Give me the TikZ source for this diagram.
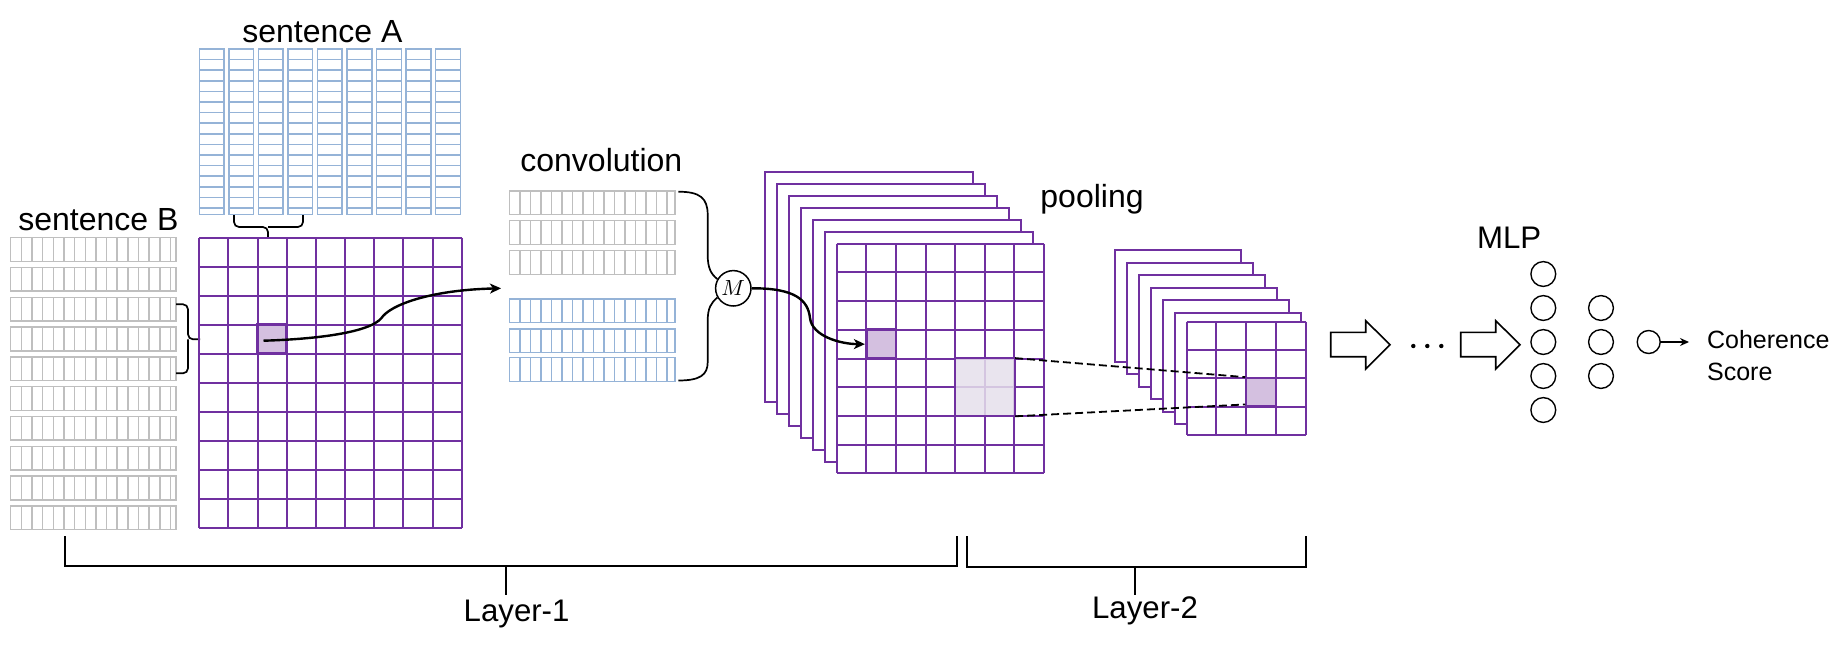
\documentclass[tikz,border=0pt]{standalone}
\usepackage{fontspec}
\setmainfont{Liberation Sans}
\usetikzlibrary{arrows.meta,calc}
\definecolor{pur}{HTML}{7030A0}
\definecolor{hl}{HTML}{D4C0E0}
\definecolor{hlb}{HTML}{E6E0EC}
\definecolor{blu}{HTML}{95B3D7}
\definecolor{gry}{HTML}{BFBFBF}
\newcommand\cellgrid[7]{%
  \foreach \cc in {0,...,#3} {\path[#7] (#1+\cc*#5,#2) -- ++(0,#4*#6);}
  \foreach \rr in {0,...,#4} {\path[#7] (#1,#2+\rr*#6) -- ++(#3*#5,0);}
}
\begin{document}
\begin{tikzpicture}[x=0.5pt,y=-0.5pt,
  lbl/.style={font=\fontsize{16}{19.2}\selectfont, inner sep=0pt, anchor=base west},
  bluline/.style={draw=blu, line width=0.75pt},
  gryline/.style={draw=gry, line width=0.75pt},
  purline/.style={draw=pur, line width=1pt},
  brc/.style={draw=black, line width=0.85pt, rounded corners=2.5pt},
  curvearrow/.style={draw=black, line width=1.2pt, -{Stealth[length=5.5pt,width=5pt,inset=1.5pt]}},
  neuron/.style={circle, draw=black, line width=0.7pt, minimum size=12.4pt, inner sep=0pt},
  hlcell/.style={draw=pur, fill=hl, line width=1.4pt, inner sep=0pt},
  blockarrow/.style={draw=black, line width=0.8pt, fill=white},
  mapframe/.style={draw=pur, fill=white, line width=1pt},
  dashedline/.style={draw=black, line width=0.9pt, dash pattern=on 4pt off 2pt},
  bracket/.style={draw=black, line width=1pt},
]
\useasboundingbox (0,0) rectangle (1845,649);

% ---- sentence A (word vectors, vertical)
\foreach \i in {0,...,8}{
  \pgfmathsetmacro{\xa}{199.3+\i*29.55}
  \path[bluline] (\xa,49) rectangle ++(24.7,165.7);
  \foreach \k in {1,...,15}{\path[bluline] (\xa,49+\k*10.6) -- ++(24.7,0);}
}
\node[lbl] (senA) at (242,42) {sentence A};
\path[brc] (234,215) -- (234,227) -- (268,227) -- (268,238);
\path[brc] (268,227) -- (303,227) -- (303,215);

% ---- sentence B (word vectors, horizontal)
\foreach \k in {0,...,9}{
  \pgfmathsetmacro{\yb}{237.7+\k*29.8}
  \path[gryline] (10.7,\yb) rectangle (176,\yb+23.7);
  \foreach \j in {1,...,15}{\path[gryline] (10.7+\j*10.65,\yb) -- ++(0,23.7);}
}
\node[lbl] (senB) at (18,230) {sentence B};
\path[brc] (176,304.3) -- (188,304.3) -- (188,339.3) -- (200,339.3);
\path[brc] (188,339.3) -- (188,373.3) -- (176,373.3);

% ---- layer-1 input matrix
\cellgrid{199.3}{237.7}{9}{10}{29.15}{29}{purline}
\node[hlcell, minimum width=14.575pt, minimum height=14.5pt] (hc1) at (272.2,339.2) {};

% ---- convolution vectors
\node[lbl] (convlbl) at (520,171.7) {convolution};
\foreach \y/\c in {191/gry,220.7/gry,250.7/gry,299/blu,329/blu,357.7/blu}{
  \path[draw=\c, line width=0.75pt] (509.3,\y) rectangle (675,\y+23.6);
  \foreach \j in {1,...,15}{\path[draw=\c, line width=0.75pt] (509.3+\j*10.5,\y) -- ++(0,23.6);}
}
\node[circle, draw=black, line width=0.75pt, minimum size=17.7pt, inner sep=0pt,
      font=\fontsize{11}{13}\selectfont] (M) at (733.3,288.3) {$M$};
\path[draw=black, line width=0.85pt] (678.3,191.7) .. controls (700,191.7) and (707.7,198) .. (707.7,215)
  -- (707.7,255) .. controls (707.7,268) and (711,274) .. (M.150);
\path[draw=black, line width=0.85pt] (M.210) .. controls (711,303) and (707.7,308) .. (707.7,321)
  -- (707.7,362) .. controls (707.7,375) and (700,380.5) .. (678.3,380.5);

% ---- layer-1 feature maps
\foreach \i in {0,...,5}{
  \path[mapframe] (765+12*\i,171.7+12*\i) rectangle ++(207.7,230);
}
\fill[white] (836.7,243.7) rectangle ++(207.2,229.6);
\cellgrid{836.7}{243.7}{7}{8}{29.6}{28.7}{purline}
\node[hlcell, minimum width=14.8pt, minimum height=14.35pt] (hc2) at (881.1,344.15) {};
\node[fill=hlb, fill opacity=0.85, inner sep=0pt, minimum width=29.6pt, minimum height=28.7pt] (pr) at (985.1,387.2) {};
\path[draw=pur, line width=1.1pt] (pr.north west) rectangle (pr.south east);
\node[lbl] (poollbl) at (1040,207) {pooling};

% ---- layer-2 pooled maps
\foreach \i in {0,...,5}{
  \path[mapframe] (1115+12*\i,250+12.5*\i) rectangle ++(126,111.7);
}
\fill[white] (1186.7,321.7) rectangle ++(119,113.2);
\cellgrid{1186.7}{321.7}{4}{4}{29.75}{28.3}{purline}
\node[fill=hl, draw=pur, line width=1pt, inner sep=0pt, minimum width=14.875pt, minimum height=14.15pt] (hc3) at (1261.1,392.3) {};
\coordinate (hc3b) at ($(hc3.south west)+(0,-3)$);
\path[dashedline] (pr.north east) -- (hc3.north west);
\path[dashedline] (pr.south east) -- (hc3b);

% ---- curved arrows
\coordinate (a1s) at (263.5,340.7);
\coordinate (a1e) at (501,288.3);
\path[curvearrow] (a1s) .. controls (320,339) and (370,332) .. (381.5,318)
  .. controls (390,305) and (430,290) .. (a1e);
\path[curvearrow] (M.east) .. controls (795,288) and (808,300) .. (810,318)
  .. controls (812,336) and (840,344) .. (hc2.west);

% ---- block arrows and dots
\path[blockarrow] (1330.7,332.3) -- (1365.7,332.3) -- (1365.7,320.7) -- (1390,344.7)
  -- (1365.7,369) -- (1365.7,356.7) -- (1330.7,356.7) -- cycle;
\begin{scope}[shift={(130,0)}]
\path[blockarrow] (1330.7,332.3) -- (1365.7,332.3) -- (1365.7,320.7) -- (1390,344.7)
  -- (1365.7,369) -- (1365.7,356.7) -- (1330.7,356.7) -- cycle;
\end{scope}
\foreach \x in {1413.3,1427.3,1441.3}{\fill (\x,346) circle[radius=2.2];}

% ---- MLP
\node[lbl, font=\fontsize{15.6}{18.7}\selectfont] (mlplbl) at (1476.7,248.3) {MLP};
\foreach \k in {0,...,4}{\node[neuron] (na\k) at (1543.3,274+34*\k) {};}
\foreach \k in {0,...,2}{\node[neuron] (nb\k) at (1601,308+34*\k) {};}
\node[neuron, minimum size=11.5pt] (out) at (1648.7,342) {};
\coordinate (outend) at (1689,342);
\path[draw=black, line width=0.7pt, -{Stealth[length=4.5pt,width=4pt]}] (out.east) -- (outend);
\node[lbl, font=\fontsize{12.5}{15}\selectfont] (coh) at (1706.7,348.3) {Coherence};
\node[lbl, font=\fontsize{12.5}{15}\selectfont] (score) at (1706.7,380) {Score};

% ---- layer brackets
\path[bracket] (65,536) -- (65,566) -- (957.3,566) -- (957.3,536);
\coordinate (t1a) at (506,566);
\coordinate (t1b) at (506,595);
\path[draw=black, line width=0.65pt] (t1a) -- (t1b);
\node[lbl, font=\fontsize{15.6}{18.7}\selectfont] (L1) at (463.3,621) {Layer-1};
\path[bracket] (966.7,536) -- (966.7,566.7) -- (1306,566.7) -- (1306,536);
\coordinate (t2a) at (1135,566.7);
\coordinate (t2b) at (1135,595);
\path[draw=black, line width=0.65pt] (t2a) -- (t2b);
\node[lbl, font=\fontsize{15.6}{18.7}\selectfont] (L2) at (1091.7,618.3) {Layer-2};
\end{tikzpicture}
\end{document}
